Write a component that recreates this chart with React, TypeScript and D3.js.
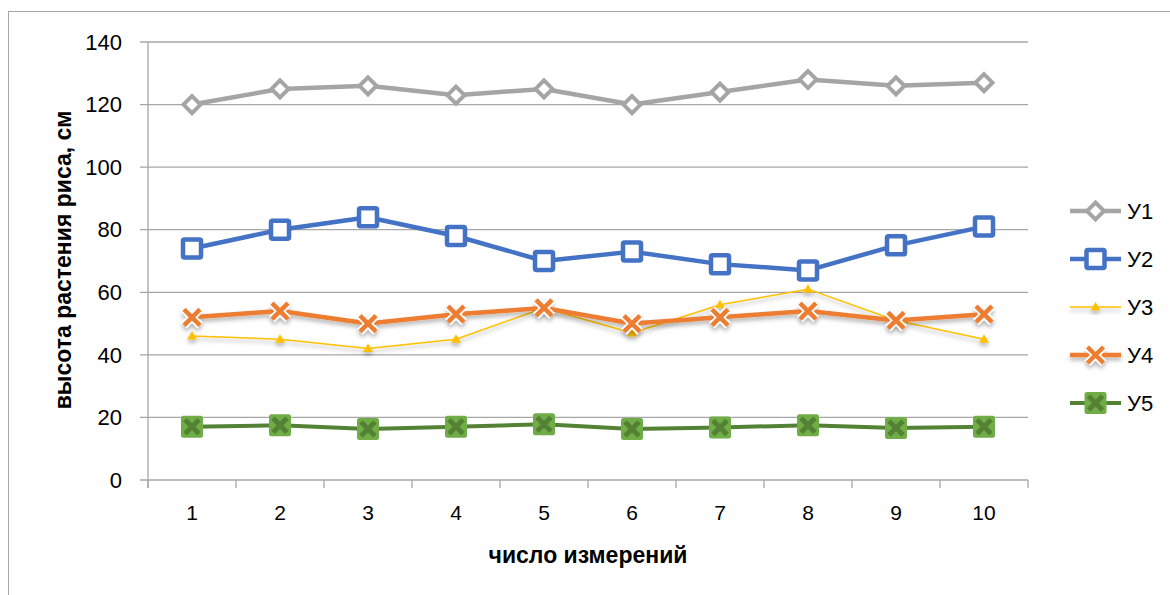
import React, { useEffect, useRef } from "react";
import * as d3 from "d3";

// measurements 1..10
const categories = ["1", "2", "3", "4", "5", "6", "7", "8", "9", "10"];
const y1 = [120, 125, 126, 123, 125, 120, 124, 128, 126, 127];
const y2 = [74, 80, 84, 78, 70, 73, 69, 67, 75, 81];
const y3 = [46, 45, 42, 45, 55, 47, 56, 61, 51, 45];
const y4 = [52, 54, 50, 53, 55, 50, 52, 54, 51, 53];
const y5 = [17, 17.5, 16.3, 17, 17.8, 16.3, 16.8, 17.5, 16.6, 17];
const yTicks = [0, 20, 40, 60, 80, 100, 120, 140];
const seriesNames = ["У1", "У2", "У3", "У4", "У5"];

type Marker = "diamond" | "square" | "triangle" | "cross" | "boxcross";

interface Series {
  name: string;
  values: number[];
  color: string;
  width: number;
  marker: Marker;
  shadow: boolean;
}

const series: Series[] = [
  { name: seriesNames[0], values: y1, color: "#a5a5a5", width: 4.5, marker: "diamond", shadow: false },
  { name: seriesNames[1], values: y2, color: "#4472c4", width: 4.5, marker: "square", shadow: false },
  { name: seriesNames[2], values: y3, color: "#ffc000", width: 1.5, marker: "triangle", shadow: true },
  { name: seriesNames[3], values: y4, color: "#ed7d31", width: 4.5, marker: "cross", shadow: true },
  { name: seriesNames[4], values: y5, color: "#548235", width: 4, marker: "boxcross", shadow: false },
];

const W = 1170;
const H = 595;
const FONT = "'Liberation Sans', Arial, sans-serif";

function drawMarker(
  g: d3.Selection<SVGGElement, unknown, null, undefined>,
  kind: Marker,
  color: string
) {
  if (kind === "diamond") {
    g.append("path")
      .attr("d", "M0,-8.5L8.5,0L0,8.5L-8.5,0Z")
      .attr("fill", "#fff")
      .attr("stroke", color)
      .attr("stroke-width", 4)
      .attr("stroke-linejoin", "miter");
  } else if (kind === "square") {
    g.append("rect")
      .attr("x", -9)
      .attr("y", -9)
      .attr("width", 18)
      .attr("height", 18)
      .attr("rx", 1.5)
      .attr("fill", "#fff")
      .attr("stroke", color)
      .attr("stroke-width", 4.5);
  } else if (kind === "triangle") {
    g.append("path")
      .attr("d", "M0,-5L5,3.5L-5,3.5Z")
      .attr("fill", color);
  } else if (kind === "cross") {
    const d = "M-8,-8L8,8M8,-8L-8,8";
    g.append("path").attr("d", d).attr("stroke", "#fff").attr("stroke-width", 8);
    g.append("path").attr("d", d).attr("stroke", color).attr("stroke-width", 4.5);
  } else {
    g.append("rect")
      .attr("x", -11)
      .attr("y", -11)
      .attr("width", 22)
      .attr("height", 22)
      .attr("rx", 2.5)
      .attr("fill", "#70ad47");
    g.append("path")
      .attr("d", "M-7,-7L7,7M7,-7L-7,7")
      .attr("stroke", color)
      .attr("stroke-width", 5);
  }
}

export default function App() {
  const svgRef = useRef<SVGSVGElement>(null);

  useEffect(() => {
    if (!svgRef.current) return;
    const svg = d3.select(svgRef.current);
    svg.selectAll("*").remove();

    const plot = { left: 148, right: 1028, top: 42, bottom: 480 };

    const x = d3.scaleBand<string>().domain(categories).range([plot.left, plot.right]).padding(0);
    const y = d3.scaleLinear().domain([0, 140]).range([plot.bottom, plot.top]);

    const defs = svg.append("defs");
    const f = defs
      .append("filter")
      .attr("id", "shadow")
      .attr("x", "-20%")
      .attr("y", "-50%")
      .attr("width", "140%")
      .attr("height", "200%");
    f.append("feDropShadow")
      .attr("dx", 0)
      .attr("dy", 3)
      .attr("stdDeviation", 2)
      .attr("flood-color", "#000")
      .attr("flood-opacity", 0.3);

    // chart border
    svg.append("rect")
      .attr("x", 8.5)
      .attr("y", 11.5)
      .attr("width", 1300)
      .attr("height", 700)
      .attr("fill", "#fff")
      .attr("stroke", "#a6a6a6")
      .attr("stroke-width", 1);

    // gridlines + y ticks
    const grid = svg.append("g");
    yTicks.forEach((t) => {
      grid.append("line")
        .attr("x1", plot.left - 8)
        .attr("x2", plot.right)
        .attr("y1", y(t))
        .attr("y2", y(t))
        .attr("stroke", "#a6a6a6")
        .attr("stroke-width", 1.3);
      grid.append("text")
        .attr("x", plot.left - 26)
        .attr("y", y(t))
        .attr("dy", "0.35em")
        .attr("text-anchor", "end")
        .style("font-family", FONT)
        .style("font-size", "22px")
        .style("fill", "#000")
        .text(t);
    });

    // y axis line
    grid.append("line")
      .attr("x1", plot.left)
      .attr("x2", plot.left)
      .attr("y1", plot.top)
      .attr("y2", plot.bottom + 8)
      .attr("stroke", "#a6a6a6")
      .attr("stroke-width", 1.3);

    // x ticks at band edges
    const edges = categories.map((c) => x(c) as number).concat([plot.right]);
    edges.forEach((e) => {
      grid.append("line")
        .attr("x1", e)
        .attr("x2", e)
        .attr("y1", plot.bottom)
        .attr("y2", plot.bottom + 8)
        .attr("stroke", "#a6a6a6")
        .attr("stroke-width", 1.3);
    });
    categories.forEach((c) => {
      grid.append("text")
        .attr("x", (x(c) as number) + x.bandwidth() / 2)
        .attr("y", 513)
        .attr("dy", "0.35em")
        .attr("text-anchor", "middle")
        .style("font-family", FONT)
        .style("font-size", "21px")
        .style("fill", "#000")
        .text(c);
    });

    // axis titles
    svg.append("text")
      .attr("x", (plot.left + plot.right) / 2)
      .attr("y", 555)
      .attr("dy", "0.35em")
      .attr("text-anchor", "middle")
      .style("font-family", FONT)
      .style("font-size", "23px")
      .style("font-weight", "bold")
      .text("число измерений");

    svg.append("text")
      .attr("transform", `translate(63,260) rotate(-90)`)
      .attr("dy", "0.35em")
      .attr("text-anchor", "middle")
      .style("font-family", FONT)
      .style("font-size", "23px")
      .style("font-weight", "bold")
      .text("высота растения риса, см");

    const line = d3
      .line<number>()
      .x((_, i) => (x(categories[i]) as number) + x.bandwidth() / 2)
      .y((d) => y(d));

    // series
    series.forEach((s) => {
      const g = svg.append("g");
      if (s.shadow) g.attr("filter", "url(#shadow)");
      g.append("path")
        .datum(s.values)
        .attr("d", line)
        .attr("fill", "none")
        .attr("stroke", s.color)
        .attr("stroke-width", s.width)
        .attr("stroke-linejoin", "round");
      s.values.forEach((v, i) => {
        const m = g
          .append("g")
          .attr("transform", `translate(${(x(categories[i]) as number) + x.bandwidth() / 2},${y(v)})`);
        drawMarker(m, s.marker, s.color);
      });
    });

    // legend
    const legend = svg.append("g");
    series.forEach((s, i) => {
      const ly = 211 + i * 48;
      const lg = legend.append("g");
      if (s.shadow) lg.attr("filter", "url(#shadow)");
      lg.append("line")
        .attr("x1", 1070)
        .attr("x2", 1121)
        .attr("y1", ly)
        .attr("y2", ly)
        .attr("stroke", s.color)
        .attr("stroke-width", s.width);
      drawMarker(lg.append("g").attr("transform", `translate(1095.5,${ly})`), s.marker, s.color);
      legend.append("text")
        .attr("x", 1127)
        .attr("y", ly)
        .attr("dy", "0.35em")
        .style("font-family", FONT)
        .style("font-size", "22px")
        .style("fill", "#000")
        .text(s.name);
    });
  }, []);

  return (
    <svg
      ref={svgRef}
      width={W}
      height={H}
      style={{ position: "absolute", left: 0, top: 0, background: "#fff" }}
    />
  );
}
